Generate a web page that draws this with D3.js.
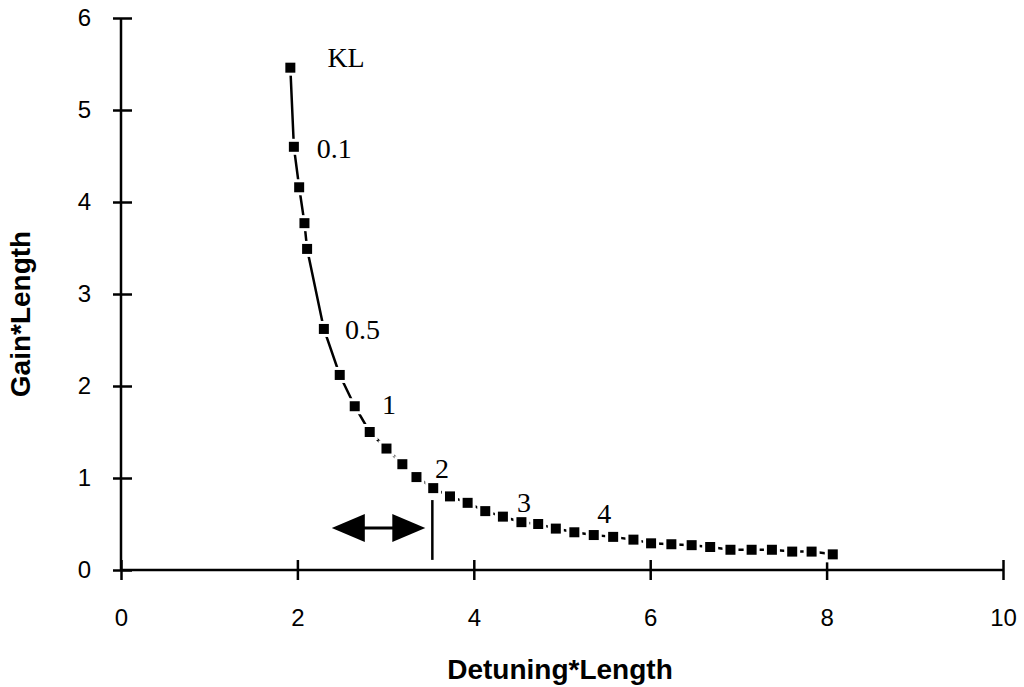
<!DOCTYPE html>
<html>
<head>
  <title>Gain vs Detuning</title>
  <script src="https://d3js.org/d3.v7.min.js"></script>
  <style>
    body { margin: 0; background: #fff; }
    .tick text { font-family: "Liberation Sans", Arial, sans-serif; font-size: 24px; fill: #000; }
    .title { font-family: "Liberation Sans", Arial, sans-serif; font-size: 28px; font-weight: bold; }
    .note { font-family: "Liberation Serif", "Times New Roman", serif; font-size: 28px; }
  </style>
</head>
<body>
<svg width="1024" height="687"></svg>
<script>
  // detuning*length vs gain*length
  const detuning = [1.92, 1.96, 2.02, 2.08, 2.11, 2.30, 2.48, 2.65, 2.82, 3.01, 3.19, 3.35,
                    3.54, 3.73, 3.93, 4.13, 4.33, 4.54, 4.73, 4.93, 5.14, 5.36, 5.58, 5.81,
                    6.01, 6.24, 6.47, 6.68, 6.91, 7.15, 7.38, 7.61, 7.83, 8.07];
  const gain = [5.46, 4.60, 4.16, 3.77, 3.49, 2.62, 2.12, 1.78, 1.50, 1.32, 1.15, 1.01,
                0.89, 0.80, 0.73, 0.64, 0.58, 0.52, 0.50, 0.45, 0.41, 0.38, 0.36, 0.33,
                0.29, 0.28, 0.27, 0.25, 0.22, 0.22, 0.22, 0.20, 0.20, 0.17];

  // KL annotations: label, x, y (baseline-left)
  const notes = [
    ["KL", 2.34, 5.47], ["0.1", 2.22, 4.48], ["0.5", 2.54, 2.51], ["1", 2.96, 1.70],
    ["2", 3.56, 1.00], ["3", 4.49, 0.63], ["4", 5.40, 0.51]
  ];

  // double arrow and marker line
  const arrowX = [2.39, 3.45], arrowY = 0.457;
  const markX = 3.53, markY = [0.11, 0.76];

  const xTicks = [0, 2, 4, 6, 8, 10];
  const yTicks = [0, 1, 2, 3, 4, 5, 6];

  const data = detuning.map((d, i) => ({x: d, y: gain[i]}));

  const svg = d3.select("svg");

  const x = d3.scaleLinear().domain([0, 10]).range([121, 1003]);
  const y = d3.scaleLinear().domain([0, 6]).range([570, 18]);

  // X axis
  const gx = svg.append("g")
    .attr("transform", "translate(0," + y(0) + ")")
    .call(d3.axisBottom(x).tickValues(xTicks).tickSize(10).tickPadding(29).tickFormat(d3.format("d")));
  gx.select(".domain").attr("d", "M" + x(0) + ",0H" + x(10));
  gx.selectAll(".tick line").attr("y1", -10);

  // Y axis
  const gy = svg.append("g")
    .attr("transform", "translate(" + x(0) + ",0)")
    .call(d3.axisLeft(y).tickValues(yTicks).tickSize(8).tickPadding(22).tickFormat(d3.format("d")));
  gy.select(".domain").attr("d", "M0," + y(6) + "V" + y(0));
  gy.selectAll(".tick line").attr("x1", 11);

  svg.selectAll(".domain, .tick line").attr("stroke", "#000").attr("stroke-width", 2.5);

  // curve
  const line = d3.line().x(d => x(d.x)).y(d => y(d.y));
  svg.append("path")
    .datum(data)
    .attr("fill", "none")
    .attr("stroke", "#000")
    .attr("stroke-width", 2.5)
    .attr("d", line);

  // markers with white halo
  svg.selectAll(".halo")
    .data(data)
    .join("rect")
      .attr("class", "halo")
      .attr("x", d => x(d.x) - 8).attr("y", d => y(d.y) - 8)
      .attr("width", 16).attr("height", 16)
      .attr("fill", "#fff");
  svg.selectAll(".pt")
    .data(data)
    .join("rect")
      .attr("class", "pt")
      .attr("x", d => x(d.x) - 5).attr("y", d => y(d.y) - 5)
      .attr("width", 10).attr("height", 10)
      .attr("fill", "#000");

  // KL labels
  svg.selectAll(".note")
    .data(notes)
    .join("text")
      .attr("class", "note")
      .attr("x", d => x(d[1]))
      .attr("y", d => y(d[2]))
      .text(d => d[0]);

  // double-headed arrow
  const ax0 = x(arrowX[0]), ax1 = x(arrowX[1]), ay = y(arrowY);
  const head = 33, half = 14;
  svg.append("line")
    .attr("x1", ax0 + head - 2).attr("x2", ax1 - head + 2)
    .attr("y1", ay).attr("y2", ay)
    .attr("stroke", "#000").attr("stroke-width", 3);
  svg.append("path")
    .attr("d", `M${ax0},${ay}L${ax0 + head},${ay - half}L${ax0 + head},${ay + half}Z`)
    .attr("fill", "#000");
  svg.append("path")
    .attr("d", `M${ax1},${ay}L${ax1 - head},${ay - half}L${ax1 - head},${ay + half}Z`)
    .attr("fill", "#000");

  svg.append("line")
    .attr("x1", x(markX)).attr("x2", x(markX))
    .attr("y1", y(markY[0])).attr("y2", y(markY[1]))
    .attr("stroke", "#000").attr("stroke-width", 2.5);

  // axis titles
  svg.append("text")
    .attr("class", "title")
    .attr("x", 560).attr("y", 679)
    .attr("text-anchor", "middle")
    .text("Detuning*Length");
  svg.append("text")
    .attr("class", "title")
    .attr("transform", "translate(30,314) rotate(-90)")
    .attr("text-anchor", "middle")
    .text("Gain*Length");
</script>
</body>
</html>
